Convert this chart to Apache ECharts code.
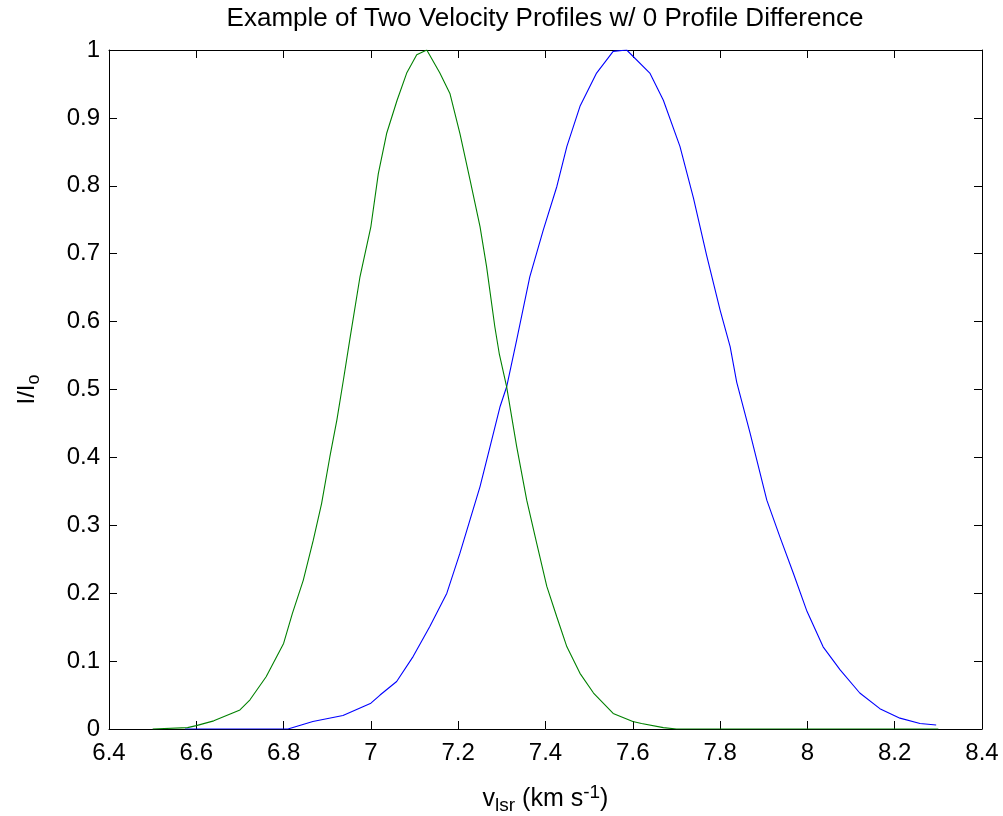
<!DOCTYPE html>
<html>
<head>
<meta charset="utf-8">
<script src="https://cdn.jsdelivr.net/npm/echarts@6/dist/echarts.min.js"></script>
<style>
html,body{margin:0;padding:0;background:#fff;}
#chart{width:1003px;height:816px;}
</style>
</head>
<body>
<div id="chart"></div>
<script>
// ---- data ----
const titleText = 'Example of Two Velocity Profiles w/ 0 Profile Difference';
const xTicks = [6.4, 6.6, 6.8, 7, 7.2, 7.4, 7.6, 7.8, 8, 8.2, 8.4];
const yTicks = [0, 0.1, 0.2, 0.3, 0.4, 0.5, 0.6, 0.7, 0.8, 0.9, 1];

const greenV = [6.50, 6.58, 6.60, 6.64, 6.70, 6.723, 6.76, 6.80, 6.82, 6.845, 6.868, 6.887, 6.906, 6.922, 6.937, 6.952, 6.975, 7.00, 7.017, 7.036, 7.06, 7.082, 7.105, 7.128, 7.158, 7.181, 7.204, 7.227, 7.25, 7.265, 7.284, 7.294, 7.311, 7.334, 7.357, 7.38, 7.403, 7.426, 7.449, 7.479, 7.51, 7.555, 7.60, 7.62, 7.67, 7.70, 8.30];
const greenI = [0, 0.002, 0.005, 0.012, 0.028, 0.043, 0.077, 0.126, 0.170, 0.219, 0.278, 0.332, 0.401, 0.455, 0.514, 0.575, 0.666, 0.740, 0.818, 0.877, 0.926, 0.966, 0.993, 1.0, 0.966, 0.936, 0.877, 0.809, 0.740, 0.681, 0.592, 0.553, 0.504, 0.416, 0.337, 0.273, 0.210, 0.165, 0.121, 0.082, 0.053, 0.023, 0.011, 0.008, 0.002, 0, 0];

const blueV = [6.574, 6.81, 6.867, 6.936, 7.00, 7.021, 7.059, 7.097, 7.135, 7.174, 7.204, 7.227, 7.25, 7.273, 7.296, 7.311, 7.334, 7.364, 7.395, 7.426, 7.449, 7.479, 7.517, 7.555, 7.586, 7.639, 7.67, 7.708, 7.739, 7.769, 7.80, 7.823, 7.838, 7.869, 7.907, 7.937, 7.968, 7.998, 8.036, 8.075, 8.12, 8.166, 8.212, 8.258, 8.295];
const blueI = [0, 0, 0.011, 0.020, 0.038, 0.050, 0.070, 0.107, 0.151, 0.200, 0.259, 0.308, 0.357, 0.416, 0.475, 0.504, 0.573, 0.666, 0.735, 0.799, 0.858, 0.917, 0.966, 0.998, 1.0, 0.966, 0.926, 0.858, 0.782, 0.698, 0.617, 0.563, 0.511, 0.435, 0.337, 0.283, 0.229, 0.175, 0.121, 0.087, 0.053, 0.030, 0.016, 0.008, 0.006];

const zip = (a, b) => a.map((v, i) => [v, b[i]]);

const FONT = '"Liberation Sans", Arial, Helvetica, sans-serif';
const chart = echarts.init(document.getElementById('chart'), null, {renderer: 'canvas'});

const axisLine = {show: true, onZero: false, lineStyle: {color: '#000', width: 1}};
const axisTick = {show: true, inside: true, length: 8, lineStyle: {color: '#000', width: 1}};
const fmt = v => String(+(+v).toFixed(1));

chart.setOption({
  animation: false,
  backgroundColor: '#fff',
  title: {
    text: titleText,
    left: 545,
    top: 6,
    textAlign: 'center',
    padding: 0,
    textStyle: {fontFamily: FONT, fontSize: 26, fontWeight: 'normal', color: '#000'}
  },
  grid: {left: 109, right: 21, top: 50, bottom: 87, containLabel: false, outerBoundsMode: 'none'},
  xAxis: [{
    type: 'value', min: xTicks[0], max: xTicks[xTicks.length - 1], interval: 0.2,
    axisLine, axisTick, splitLine: {show: false},
    axisLabel: {formatter: fmt, fontFamily: FONT, fontSize: 24, color: '#000', margin: 12},
    name: '{n|v}{sub|lsr}{n| (km s}{sup|-1}{n|)}',
    nameLocation: 'middle', nameGap: 56,
    nameTextStyle: {
      fontFamily: FONT, color: '#000',
      rich: {
        n: {fontFamily: FONT, fontSize: 25, color: '#000', lineHeight: 28},
        sub: {fontFamily: FONT, fontSize: 19, color: '#000', padding: [14, 0, 0, 0], lineHeight: 18},
        sup: {fontFamily: FONT, fontSize: 19, color: '#000', padding: [0, 0, 12, 0], lineHeight: 18}
      }
    }
  }, {
    type: 'value', position: 'top', min: xTicks[0], max: xTicks[xTicks.length - 1], interval: 0.2,
    axisLine, axisTick, axisLabel: {show: false}, splitLine: {show: false}
  }],
  yAxis: [{
    type: 'value', min: yTicks[0], max: yTicks[yTicks.length - 1], interval: 0.1,
    axisLine, axisTick, splitLine: {show: false},
    axisLabel: {formatter: fmt, fontFamily: FONT, fontSize: 24, color: '#000', margin: 9},
    name: '{n|I/I}{sub|o}',
    nameLocation: 'middle', nameGap: 68, nameRotate: 90,
    nameTextStyle: {
      fontFamily: FONT, color: '#000',
      rich: {
        n: {fontFamily: FONT, fontSize: 24, color: '#000', lineHeight: 28},
        sub: {fontFamily: FONT, fontSize: 18, color: '#000', padding: [14, 0, 0, 0], lineHeight: 18}
      }
    }
  }, {
    type: 'value', position: 'right', min: yTicks[0], max: yTicks[yTicks.length - 1], interval: 0.1,
    axisLine, axisTick, axisLabel: {show: false}, splitLine: {show: false}
  }],
  series: [{
    name: 'green', type: 'line', xAxisIndex: 0, yAxisIndex: 0,
    data: zip(greenV, greenI), showSymbol: false, symbol: 'none',
    lineStyle: {color: '#008000', width: 1.1}, z: 3
  }, {
    name: 'blue', type: 'line', xAxisIndex: 0, yAxisIndex: 0,
    data: zip(blueV, blueI), showSymbol: false, symbol: 'none',
    lineStyle: {color: '#0000ff', width: 1.1}, z: 2
  }]
});
</script>
</body>
</html>
